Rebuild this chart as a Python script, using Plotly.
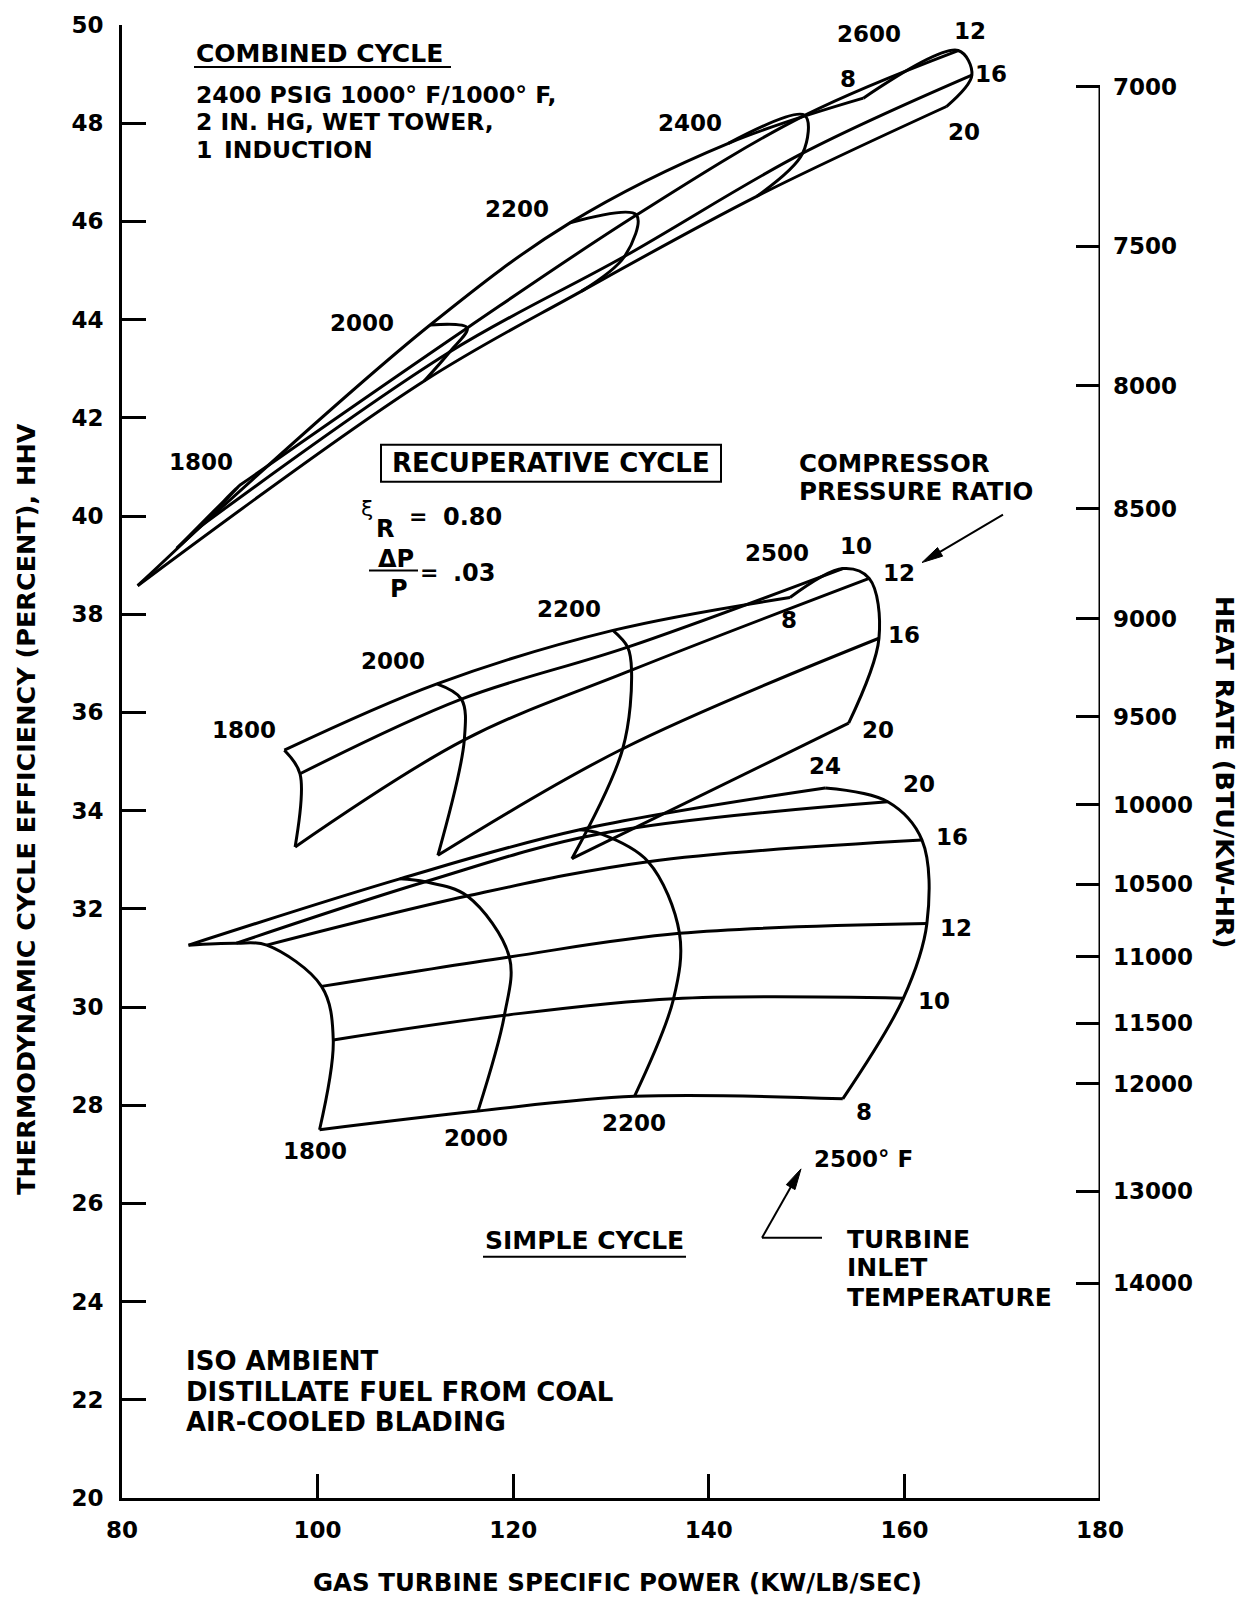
import math
import plotly.graph_objects as go

BTU_PER_KWH = 3412.14

# ---------------- simple cycle ----------------
SIMPLE_TIT = [1800, 2000, 2200, 2500]          # turbine inlet temperature, deg F
SIMPLE_PR = [8, 10, 12, 16, 20, 24]            # compressor pressure ratio
SIMPLE_POWER = [                               # kW/(lb/sec), rows = TIT, cols = PR
    [100.2, 101.6, 100.4, 94.8, 91.7, 86.8],
    [116.4, 119.1, 119.6, 115.3, 111.0, 108.4],
    [132.4, 136.4, 137.0, 133.8, 128.9, 126.8],
    [153.7, 159.9, 162.3, 161.8, 158.3, 151.9],
]
SIMPLE_EFF = [                                 # percent, HHV
    [27.50, 29.33, 30.42, 31.26, 31.30, 31.26],
    [27.88, 29.83, 31.02, 32.26, 32.55, 32.61],
    [28.18, 30.17, 31.50, 32.96, 33.53, 33.61],
    [28.13, 30.18, 31.70, 33.40, 34.18, 34.46],
]

# ---------------- recuperative cycle ----------------
RECUP_TIT = [1800, 2000, 2200, 2500]
RECUP_PR = [8, 10, 12, 16, 20]
RECUP_POWER = [
    [96.6, 98.2, 97.7, None, None],
    [112.2, 114.7, 115.0, 112.3, None],
    [130.2, 131.7, 132.1, 131.2, 126.0],
    [148.3, 153.7, 156.4, 157.4, 154.3],
]
RECUP_EFF = [
    [35.23, 34.75, 33.26, None, None],
    [36.58, 36.27, 35.44, 33.09, None],
    [37.67, 37.33, 36.86, 35.26, 33.02],
    [38.34, 38.93, 38.73, 37.51, 35.78],
]

# ---------------- combined cycle ----------------
COMB_TIT = [1800, 2000, 2200, 2400, 2600]
COMB_PR = [8, 12, 16, 20]
COMB_POWER = [
    [85.6, 92.0, 87.9, 81.6],
    [111.5, 115.3, 113.5, 110.9],
    [125.8, 132.6, 131.4, 127.0],
    [142.0, 149.8, 149.6, 144.9],
    [155.8, 165.5, 166.9, 164.3],
]
COMB_EFF = [
    [39.34, 40.62, 39.77, 38.58],
    [43.89, 43.83, 43.34, 42.75],
    [45.97, 46.13, 45.29, 44.58],
    [47.59, 48.16, 47.39, 46.51],
    [48.51, 49.48, 48.98, 48.34],
]

HEAT_RATE_TICKS = [7000, 7500, 8000, 8500, 9000, 9500, 10000,
                   10500, 11000, 11500, 12000, 13000, 14000]
EFF_TICKS = list(range(20, 51, 2))
POWER_TICKS = [80, 100, 120, 140, 160, 180]

FONT = "DejaVu Sans"
W, H = 1255, 1601
L, R, T, B = 122, 1100, 21, 1498          # plot-area edges on the canvas (px)
X0, X1, Y0, Y1 = 80, 180, 20, 50


def cx(px):
    return X0 + (px - L) * (X1 - X0) / (R - L)


def cy(py):
    return Y1 - (py - T) * (Y1 - Y0) / (B - T)


def fx(px):
    return (px - L) / (R - L)


def fy(py):
    return (B - py) / (B - T)


fig = go.Figure()


def add_curve(xs, ys):
    pts = [(x, y) for x, y in zip(xs, ys) if x is not None and y is not None]
    if len(pts) < 2:
        return
    fig.add_trace(go.Scatter(
        x=[p[0] for p in pts], y=[p[1] for p in pts], mode="lines",
        line=dict(color="black", width=3, shape="spline", smoothing=1.0),
        hoverinfo="skip", showlegend=False))


def add_family(power, eff):
    for prow, erow in zip(power, eff):               # constant TIT
        add_curve(prow, erow)
    for j in range(len(power[0])):                   # constant pressure ratio
        add_curve([r[j] for r in power], [r[j] for r in eff])


add_family(SIMPLE_POWER, SIMPLE_EFF)
add_family(RECUP_POWER, RECUP_EFF)
add_family(COMB_POWER, COMB_EFF)

# keeps the heat-rate axis alive
fig.add_trace(go.Scatter(x=[X0], y=[Y0], yaxis="y2", mode="markers",
                         marker=dict(opacity=0), hoverinfo="skip", showlegend=False))

annotations = []


def text(s, px, py, size=23, anchor="center", angle=0, weight="bold"):
    annotations.append(dict(
        text=s, x=fx(px), y=fy(py), xref="paper", yref="paper", showarrow=False,
        xanchor=anchor, yanchor="middle", textangle=angle,
        font=dict(family=FONT, size=size, color="black", weight=weight)))


shapes = []


def seg(px0, py0, px1, py1, w=2):
    shapes.append(dict(type="line", xref="x", yref="y", x0=cx(px0), y0=cy(py0),
                       x1=cx(px1), y1=cy(py1), line=dict(color="black", width=w)))


def arrow(px_tip, py_tip, px_tail, py_tail, head=21, half=5):
    dx, dy = px_tip - px_tail, py_tip - py_tail
    n = math.hypot(dx, dy)
    ux, uy = dx / n, dy / n
    bx, by = px_tip - ux * head, py_tip - uy * head
    seg(px_tail, py_tail, bx + ux * 4, by + uy * 4)
    p1 = (bx - uy * half, by + ux * half)
    p2 = (bx + uy * half, by - ux * half)
    path = "M {},{} L {},{} L {},{} Z".format(
        cx(px_tip), cy(py_tip), cx(p1[0]), cy(p1[1]), cx(p2[0]), cy(p2[1]))
    shapes.append(dict(type="path", xref="x", yref="y", path=path,
                       fillcolor="black", line=dict(color="black", width=1)))


# combined-cycle notes and labels
text("COMBINED CYCLE", 194, 50, 25, "left")
text("2400 PSIG 1000\u00b0 F/1000\u00b0 F,", 194, 91, 23.5, "left")
text("2 IN. HG, WET TOWER,", 194, 118, 23.5, "left")
text("1\u2002INDUCTION", 194, 146, 23.5, "left")
for t, (px, py) in zip(COMB_TIT, [(201, 459), (362, 320), (517, 206), (690, 119), (869, 30)]):
    text(str(t), px, py)
for p, (px, py) in zip(COMB_PR, [(848, 75), (970, 27), (991, 70), (964, 128)]):
    text(str(p), px, py)

# recuperative-cycle notes and labels
text("RECUPERATIVE CYCLE", 551, 460, 26)
text("\u03be", 367, 506, 22, weight="normal")
text("R", 385, 526, 24)
text("=", 418, 514, 22)
text("0.80", 472, 514, 24)
text("\u0394P", 396, 556, 24)
text("P", 399, 587, 24)
text("=", 429, 570, 22)
text(".03", 474, 570, 24)
for t, (px, py) in zip(RECUP_TIT, [(244, 728), (393, 659), (569, 607), (777, 550)]):
    text(str(t), px, py)
for p, (px, py) in zip(RECUP_PR, [(789, 618), (856, 543), (899, 570), (904, 633), (878, 728)]):
    text(str(p), px, py)
text("COMPRESSOR", 797, 461, 24.5, "left")
text("PRESSURE RATIO", 797, 489, 24.5, "left")
arrow(922, 560, 1003, 512)

# simple-cycle notes and labels
for t, (px, py) in zip(SIMPLE_TIT[:3], [(315, 1150), (476, 1137), (634, 1122)]):
    text(str(t), px, py)
for p, (px, py) in zip(SIMPLE_PR, [(864, 1111), (934, 1000), (956, 926), (952, 835), (919, 782), (825, 764)]):
    text(str(p), px, py)
text(f"{SIMPLE_TIT[3]}\u00b0 F", 812, 1158, 23, "left")
arrow(801, 1168, 762, 1237)
seg(762, 1237, 822, 1237)                   # leader for TIT arrow
text("TURBINE", 845, 1239, 25, "left")
text("INLET", 845, 1267, 25, "left")
text("TEMPERATURE", 845, 1297, 25, "left")
text("SIMPLE CYCLE", 483, 1240, 25, "left")
text("ISO AMBIENT", 184, 1361, 26, "left")
text("DISTILLATE FUEL FROM COAL", 184, 1392, 26, "left")
text("AIR-COOLED BLADING", 184, 1422, 26, "left")

# axis titles
text("GAS TURBINE SPECIFIC POWER (KW/LB/SEC)", 617, 1583, 24.5)
text("THERMODYNAMIC CYCLE EFFICIENCY (PERCENT), HHV", 26, 807, 25.5, angle=-90)
text("HEAT RATE (BTU/KW-HR)", 1225, 770, 25.5, angle=90)

seg(194, 63, 451, 63)                       # underline: combined cycle
seg(483, 1256, 686, 1256)                   # underline: simple cycle
seg(369, 568, 418, 568)                     # fraction bar
shapes.append(dict(type="rect", xref="x", yref="y", x0=cx(381), y0=cy(479),
                   x1=cx(721), y1=cy(442), line=dict(color="black", width=2)))
# heat-rate axis line, from the 7000 tick down
shapes.append(dict(type="line", xref="x", yref="y", x0=X1, x1=X1, y0=Y0,
                   y1=BTU_PER_KWH / HEAT_RATE_TICKS[0] * 100,
                   line=dict(color="black", width=3)))

tickfont = dict(family=FONT, size=23, color="black", weight="bold")
fig.update_layout(
    width=W, height=H,
    margin=dict(l=L, r=W - R, t=T, b=H - B, pad=0),
    paper_bgcolor="white", plot_bgcolor="white",
    font=dict(family=FONT, size=22, color="black"),
    xaxis=dict(range=[X0, X1], showline=True, linewidth=3, linecolor="black",
               ticks="inside", ticklen=24, tickwidth=3, tickcolor="black",
               tickvals=POWER_TICKS, showgrid=False, zeroline=False,
               tickfont=tickfont, ticklabelstandoff=9),
    yaxis=dict(range=[Y0, Y1], showline=True, linewidth=3, linecolor="black",
               ticks="inside", ticklen=24, tickwidth=3, tickcolor="black",
               tickvals=EFF_TICKS, showgrid=False, zeroline=False,
               tickfont=tickfont, ticklabelstandoff=11),
    yaxis2=dict(range=[Y0, Y1], overlaying="y", side="right", showline=False,
                ticks="inside", ticklen=24, tickwidth=3, tickcolor="black",
                tickvals=[BTU_PER_KWH / hr * 100 for hr in HEAT_RATE_TICKS],
                ticktext=[str(hr) for hr in HEAT_RATE_TICKS],
                showgrid=False, zeroline=False, tickfont=tickfont,
                ticklabelstandoff=12),
    annotations=annotations,
    shapes=shapes,
)

fig.write_html("out.html")
